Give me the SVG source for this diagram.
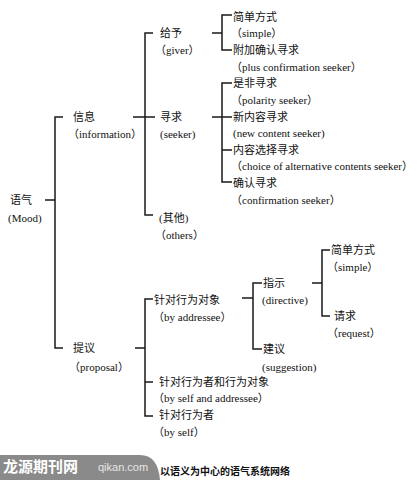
<svg xmlns="http://www.w3.org/2000/svg" width="419" height="480" viewBox="0 0 419 480">
<style>
.zh{font-family:"Liberation Serif","Noto Sans CJK SC",serif;font-size:11px;fill:#111}
.en{font-family:"Liberation Serif","Noto Sans CJK SC",serif;font-size:11px;fill:#111}
.ln{fill:none;stroke:#1a1a1a;stroke-width:1.5}
.wm{font-family:"Noto Sans CJK SC",sans-serif;font-weight:bold}
</style>
<rect width="419" height="480" fill="#fff"/>
<g id="connectors" class="ln">
<path d="M45,200H55M63,117H55V348H63"/>
<path d="M133,117H155M153,33H145V215H153"/>
<path d="M212,33H222M232,15H222V50H232"/>
<path d="M212,117H232M232,83H222V182H232M222,150H232"/>
<path d="M135,348H145M153,299H145V416H153M145,382H153"/>
<path d="M242,298H253M262,283H253V349H262"/>
<path d="M312,283H322M330,250H322V316H330"/>
</g>
<g id="mood"><text class="zh" x="10" y="204">语气</text><text class="en" x="8" y="222">(Mood)</text></g>
<g id="information"><text class="zh" x="73" y="121">信息</text><text class="en" x="68" y="138">（information）</text></g>
<g id="giver"><text class="zh" x="160" y="37">给予</text><text class="en" x="155" y="54">（giver）</text></g>
<g id="seeker"><text class="zh" x="160" y="121">寻求</text><text class="en" x="160" y="138">(seeker)</text></g>
<g id="others"><text class="zh" x="159" y="222">(其他)</text><text class="en" x="155" y="239">（others）</text></g>
<g id="simple1"><text class="zh" x="233" y="21">简单方式</text><text class="en" x="231" y="37">（simple）</text></g>
<g id="plus-confirmation"><text class="zh" x="233" y="54">附加确认寻求</text><text class="en" x="231" y="71">（plus confirmation seeker）</text></g>
<g id="polarity"><text class="zh" x="233" y="87">是非寻求</text><text class="en" x="231" y="104">（polarity seeker）</text></g>
<g id="new-content"><text class="zh" x="233" y="121">新内容寻求</text><text class="en" x="233" y="137">(new content seeker)</text></g>
<g id="choice"><text class="zh" x="233" y="154">内容选择寻求</text><text class="en" x="231" y="170">（choice of alternative contents seeker）</text></g>
<g id="confirmation"><text class="zh" x="233" y="187">确认寻求</text><text class="en" x="231" y="204">（confirmation seeker）</text></g>
<g id="proposal"><text class="zh" x="73" y="352">提议</text><text class="en" x="69" y="371">（proposal）</text></g>
<g id="by-addressee"><text class="zh" x="154" y="304">针对行为对象</text><text class="en" x="153" y="321">（by addressee）</text></g>
<g id="by-self-and-addressee"><text class="zh" x="159" y="386">针对行为者和行为对象</text><text class="en" x="153" y="402">（by self and addressee）</text></g>
<g id="by-self"><text class="zh" x="159" y="419">针对行为者</text><text class="en" x="153" y="436">（by self）</text></g>
<g id="directive"><text class="zh" x="263" y="287">指示</text><text class="en" x="262" y="304">(directive)</text></g>
<g id="suggestion"><text class="zh" x="263" y="353">建议</text><text class="en" x="262" y="371">(suggestion)</text></g>
<g id="simple2"><text class="zh" x="331" y="254">简单方式</text><text class="en" x="327" y="271">（simple）</text></g>
<g id="request"><text class="zh" x="334" y="320">请求</text><text class="en" x="327" y="337">（request）</text></g>
<g id="caption"><text class="wm" x="160" y="475" font-size="10" fill="#111">以语义为中心的语气系统网络</text></g>
<g id="watermark">
<path d="M0,455H140Q158,455 160,480H0Z" fill="#8a8a8a"/>
<text class="wm" x="3" y="472" font-size="15" fill="#fff">龙源期刊网</text>
<text x="98" y="471" font-family="Liberation Sans,sans-serif" font-size="11" fill="#e6e6e6">qikan.com</text>
</g>
</svg>
